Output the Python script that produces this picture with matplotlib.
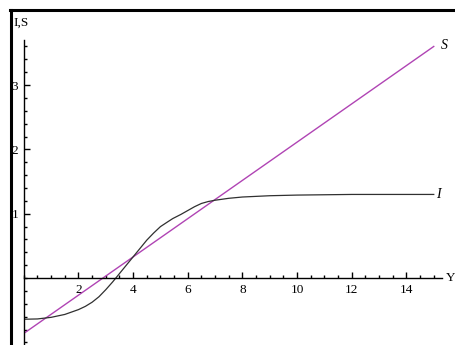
import numpy as np
import matplotlib
matplotlib.use("Agg")
import matplotlib.pyplot as plt
from matplotlib.lines import Line2D
from matplotlib.ticker import MultipleLocator

# S is a straight line, I is an S-shaped curve
s_x = [0, 15]
s_y = [-0.86, 3.6]

i_x = [0, 0.5, 1, 1.5, 2, 2.25, 2.5, 2.75, 3, 3.25, 3.5, 3.75, 4, 4.25, 4.5, 4.75, 5, 5.25, 5.45,
       5.75, 6, 6.25, 6.5, 6.75, 7, 7.5, 8, 8.5, 9, 10, 11, 12, 13, 15]
i_y = [-0.64, -0.635, -0.61, -0.565, -0.49, -0.44, -0.375, -0.29, -0.18, -0.06, 0.07, 0.2, 0.33,
       0.46, 0.59, 0.7, 0.8, 0.87, 0.925, 0.99, 1.05, 1.11, 1.16, 1.19, 1.21, 1.24, 1.26, 1.27,
       1.28, 1.29, 1.295, 1.30, 1.30, 1.30]

x_ticks = [2, 4, 6, 8, 10, 12, 14]
y_ticks = [1, 2, 3]

plt.rcParams['font.family'] = ['Liberation Serif', 'DejaVu Serif']

fig = plt.figure(figsize=(4.56, 3.45), dpi=100)
ax = fig.add_axes([0.0522, 0.0, 0.917, 0.884])

ax.plot(s_x, s_y, color='#b044b4', lw=1.0)
ax.plot(i_x, i_y, color='#303030', lw=0.9)

ax.set_xlim(0, 15.3)
ax.set_ylim(-1.04, 3.70)

# axes cross at the origin
ax.spines['left'].set_position(('data', 0))
ax.spines['bottom'].set_position(('data', 0))
ax.spines['top'].set_visible(False)
ax.spines['right'].set_visible(False)
for sp in ('left', 'bottom'):
    ax.spines[sp].set_linewidth(1.0)
    ax.spines[sp].set_color('black')

ax.set_xticks(x_ticks)
ax.set_yticks(y_ticks)
ax.xaxis.set_minor_locator(MultipleLocator(0.5))
ax.yaxis.set_minor_locator(MultipleLocator(0.2))
ax.tick_params(axis='both', which='major', direction='in', length=4, width=1, labelsize=9.5, pad=4)
ax.tick_params(axis='both', which='minor', direction='in', length=2.5, width=1)

ax.text(15.25, 3.62, 'S', fontsize=10, style='italic', ha='left', va='center')
ax.text(15.1, 1.30, 'I', fontsize=10, style='italic', ha='left', va='center')
ax.text(15.45, 0.0, 'Y', fontsize=9.5, ha='left', va='center', clip_on=False)

fig.text(0.029, 0.935, 'I,S', fontsize=9.5, ha='left', va='center')

# frame lines at top and left of the picture
fig.add_artist(Line2D([0.022, 1.0], [0.9696, 0.9696], color='black', lw=2.2))
fig.add_artist(Line2D([0.0252, 0.0252], [0.0, 0.972], color='black', lw=2.2))

fig.savefig('out.png', dpi=100)
